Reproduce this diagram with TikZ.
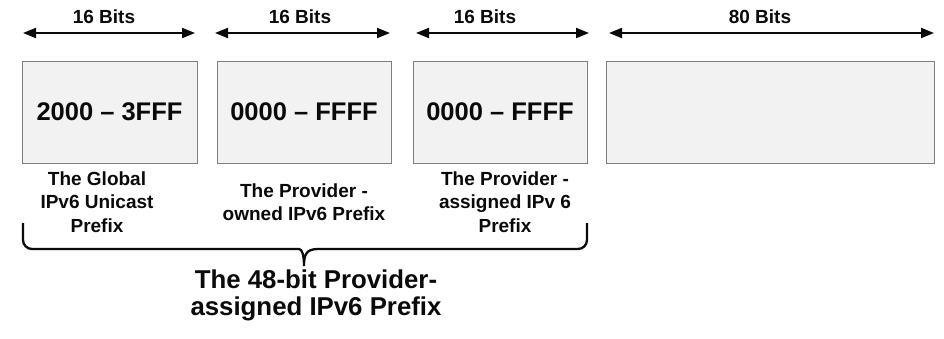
\documentclass[tikz,border=0pt]{standalone}
\usepackage{fontspec}
\setmainfont{Liberation Sans}
\usepackage{tikz}
\usetikzlibrary{calc, positioning, arrows.meta}
\definecolor{boxfill}{HTML}{F2F2F2}
\definecolor{boxline}{HTML}{7F7F7F}
\definecolor{ink}{HTML}{0A0A0A}
\newcommand{\fsWidth}{\fontsize{19}{22}\selectfont\bfseries}
\newcommand{\fsRange}{\fontsize{25.5}{30}\selectfont\bfseries}
\newcommand{\fsField}{\fontsize{19}{23.5}\selectfont\bfseries}
\newcommand{\fsPrefix}{\fontsize{25.8}{27}\selectfont\bfseries}

\begin{document}
\begin{tikzpicture}[x=1pt, y=-1pt, every node/.style={inner sep=0pt, text=ink},
  field/.style={draw=boxline, fill=boxfill, line width=1pt, minimum height=102pt, font=\fsRange},
  span/.style={{Triangle[length=13pt,width=10pt]}-{Triangle[length=13pt,width=10pt]}, line width=2pt, draw=ink},
  note/.style={font=\fsField, align=center},
  bracket/.style={line width=2.3pt, draw=ink}]
  \useasboundingbox (0,0) rectangle (944,338);

  % fields
  \node[field, minimum width=175pt] (b1) at (109.5,112) {2000 – 3FFF};
  \node[field, minimum width=174pt] (b2) at (304,112) {0000 – FFFF};
  \node[field, minimum width=174pt] (b3) at (500,112) {0000 – FFFF};
  \node[field, minimum width=328pt] (b4) at (770,112) {};

  % widths
  \coordinate (a1l) at (23,33);  \coordinate (a1r) at (195,33);
  \coordinate (a2l) at (215,33); \coordinate (a2r) at (390,33);
  \coordinate (a3l) at (416,33); \coordinate (a3r) at (589,33);
  \coordinate (a4l) at (609,33); \coordinate (a4r) at (934,33);
  \draw[span] (a1l) -- (a1r);
  \draw[span] (a2l) -- (a2r);
  \draw[span] (a3l) -- (a3r);
  \draw[span] (a4l) -- (a4r);
  \node[font=\fsWidth] (w1) at (104,17) {16 Bits};
  \node[font=\fsWidth] (w2) at (300,17) {16 Bits};
  \node[font=\fsWidth] (w3) at (485,17) {16 Bits};
  \node[font=\fsWidth] (w4) at (760,17) {80 Bits};

  % field names
  \node[note] (l1) at (97,202) {The Global\\IPv6 Unicast\\Prefix};
  \node[note] (l2) at (304,202) {The Provider -\\owned IPv6 Prefix};
  \node[note] (l3) at (505,202) {The Provider -\\assigned IPv 6\\Prefix};

  % brace under the first three fields
  \coordinate (brl) at (23,223);
  \coordinate (brr) at (587,223);
  \coordinate (brml) at (290,249);
  \coordinate (brmr) at (318,249);
  \coordinate (brtip) at (304,266);
  \draw[bracket] (brl) [rounded corners=9pt] |- (brml) [sharp corners]
    .. controls +(12,0) and +(0,-11) .. (brtip)
    .. controls +(0,-11) and +(-12,0) .. (brmr) [rounded corners=9pt] -| (brr);
  \node[font=\fsPrefix, align=center] (total) at (316,295.5) {The 48-bit Provider-\\assigned IPv6 Prefix};
\end{tikzpicture}
\end{document}
